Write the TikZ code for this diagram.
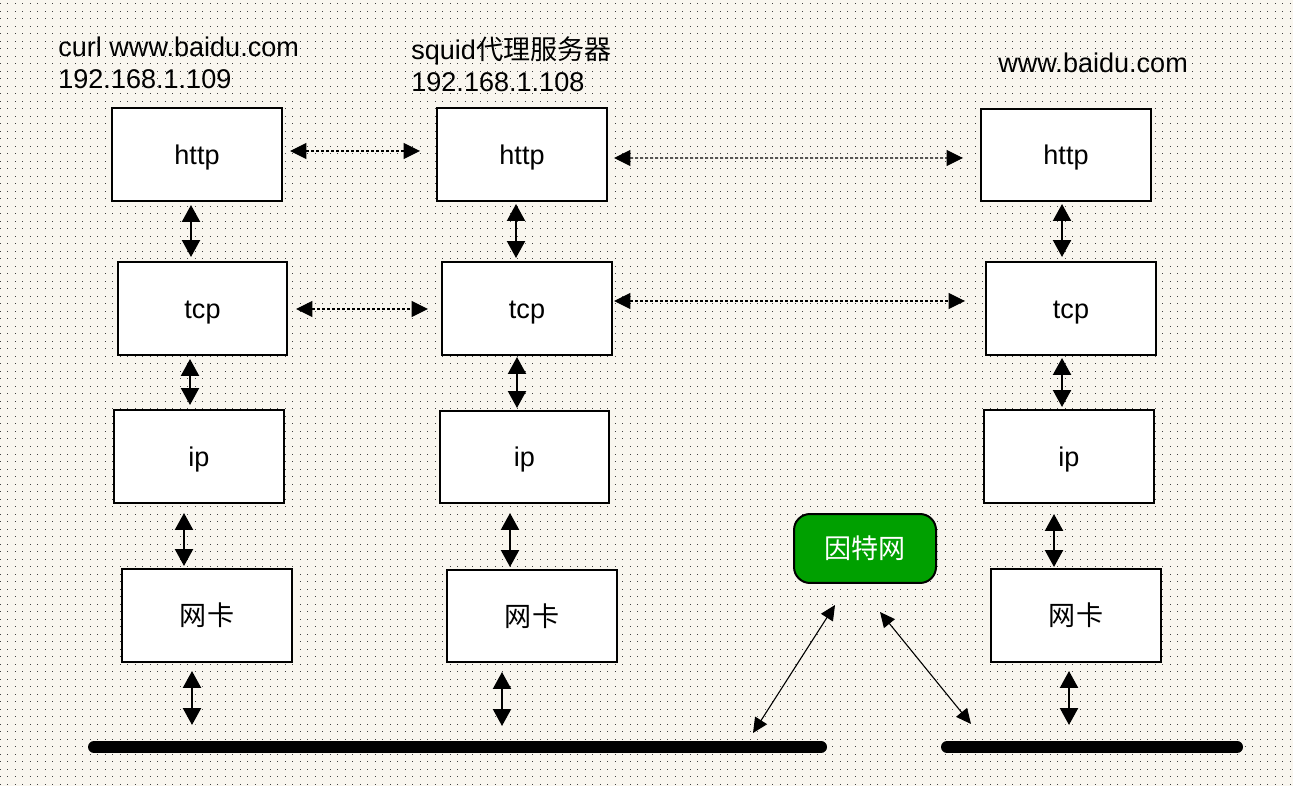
\documentclass[tikz,border=0pt]{standalone}
\usepackage{fontspec}
\setmainfont{Liberation Sans}
\newfontfamily\cjk{Noto Sans CJK SC}
\usetikzlibrary{arrows.meta,calc}

\definecolor{paper}{RGB}{249,246,239}
\definecolor{netgreen}{RGB}{0,160,0}

\tikzset{
    layer/.style={draw, line width=0.04cm, fill=white, minimum width=3.4cm, minimum height=1.86cm, inner sep=0pt,
        text height=0.45cm, text depth=0.05cm},
    vlink/.style={line width=0.045cm, {Triangle[length=0.34cm,width=0.36cm]}-{Triangle[length=0.34cm,width=0.36cm]}},
    hlink/.style={line width=0.025cm, dash pattern=on 0.06cm off 0.04cm, {Triangle[length=0.33cm,width=0.32cm]}-{Triangle[length=0.33cm,width=0.32cm]}},
    slink/.style={line width=0.022cm, {Triangle[length=0.3cm,width=0.28cm]}-{Triangle[length=0.3cm,width=0.28cm]}},
    bus/.style={line width=0.24cm, line cap=round},
    hostlabel/.style={anchor=base west, inner sep=0pt}
}

\begin{document}
\begin{tikzpicture}[x=0.02cm, y=-0.02cm, font=\fontsize{15.4}{18}\selectfont]
    % background with dot grid
    \fill[paper] (0, 0) rectangle (1293, 786);
    \useasboundingbox (0, 0) rectangle (1293, 786);
    \foreach \y in {4, 11.5, ..., 786}
        \draw[black!75, line width=0.02cm, dash pattern=on 0.02cm off 0.13cm] (0, \y) -- (1293, \y);

    % client
    \node[hostlabel] (client) at (58, 57) {curl www.baidu.com};
    \node[hostlabel] (clientip) at (58, 89) {192.168.1.109};
    \node[layer] (http1) at (197, 154.5) {http};
    \node[layer] (tcp1) at (202.5, 308.5) {tcp};
    \node[layer] (ip1) at (199, 456.5) {ip};
    \node[layer] (nic1) at (207, 615.5) {\cjk 网卡};

    % proxy
    \node[hostlabel] (proxy) at (411, 60) {squid{\cjk 代理服务器}};
    \node[hostlabel] (proxyip) at (411, 92) {192.168.1.108};
    \node[layer] (http2) at (522, 154.5) {http};
    \node[layer] (tcp2) at (527, 308.5) {tcp};
    \node[layer] (ip2) at (524.5, 457) {ip};
    \node[layer] (nic2) at (532, 616) {\cjk 网卡};

    % server
    \node[hostlabel] (server) at (998, 73) {www.baidu.com};
    \node[layer] (http3) at (1066, 155) {http};
    \node[layer] (tcp3) at (1071, 308.5) {tcp};
    \node[layer] (ip3) at (1069, 456.5) {ip};
    \node[layer] (nic3) at (1076, 615.5) {\cjk 网卡};

    % internet
    \node[draw, line width=0.04cm, fill=netgreen, text=white, rounded corners=0.32cm,
        minimum width=2.84cm, minimum height=1.38cm, inner sep=0pt,
        text height=0.45cm, text depth=0.05cm] (net) at (865, 548.5) {\cjk 因特网};

    % cables
    \coordinate (bus1w) at (94, 747);
    \coordinate (bus1e) at (821, 747);
    \coordinate (bus2w) at (947, 747);
    \coordinate (bus2e) at (1237, 747);
    \draw[bus] (bus1w) -- (bus1e);
    \draw[bus] (bus2w) -- (bus2e);

    \coordinate (tap1) at (192, 725);
    \coordinate (tap2) at (502, 726);
    \coordinate (tap3) at (1069, 725);
    \coordinate (tap4) at (753, 733);
    \coordinate (tap5) at (971, 724);

    % stack links
    \draw[vlink] ($(http1.south)+(-6, 3)$) -- ($(tcp1.north)+(-11.5, -4)$);
    \draw[vlink] ($(tcp1.south)+(-12.5, 3)$) -- ($(ip1.north)+(-9, -4)$);
    \draw[vlink] ($(ip1.south)+(-15, 9)$) -- ($(nic1.north)+(-23, -2)$);
    \draw[vlink] ($(nic1.south)+(-15, 8)$) -- (tap1);

    \draw[vlink] ($(http2.south)+(-6, 2)$) -- ($(tcp2.north)+(-11, -3)$);
    \draw[vlink] ($(tcp2.south)+(-10, 1)$) -- ($(ip2.north)+(-7.5, -1.5)$);
    \draw[vlink] ($(ip2.south)+(-14.5, 8.5)$) -- ($(nic2.north)+(-22, -1.5)$);
    \draw[vlink] ($(nic2.south)+(-30, 8.5)$) -- (tap2);

    \draw[vlink] ($(http3.south)+(-4, 1.5)$) -- ($(tcp3.north)+(-9, -4)$);
    \draw[vlink] ($(tcp3.south)+(-9, 2)$) -- ($(ip3.north)+(-7, -2)$);
    \draw[vlink] ($(ip3.south)+(-15, 10)$) -- ($(nic3.north)+(-22, -1)$);
    \draw[vlink] ($(nic3.south)+(-7, 8)$) -- (tap3);

    % peer links
    \draw[hlink] ($(http1.east)+(7, -3.5)$) -- ($(http2.west)+(-16, -3.5)$);
    \draw[hlink] ($(http2.east)+(6, 3.5)$) -- ($(http3.west)+(-17, 3)$);
    \draw[hlink] ($(tcp1.east)+(7.5, 0.5)$) -- ($(tcp2.west)+(-13, 0.5)$);
    \draw[hlink] ($(tcp2.east)+(1, -7.5)$) -- ($(tcp3.west)+(-20, -7.5)$);

    % to the internet
    \draw[slink] (tap4) -- ($(net.south)+(-30, 21)$);
    \draw[slink] ($(net.south)+(15, 28)$) -- (tap5);
\end{tikzpicture}
\end{document}
